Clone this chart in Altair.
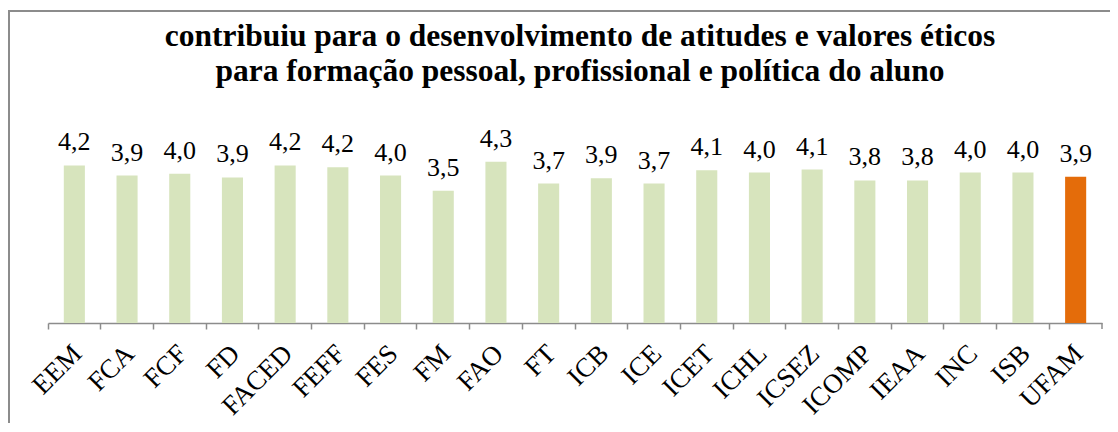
import altair as alt
import pandas as pd

categories = ["EEM", "FCA", "FCF", "FD", "FACED", "FEFF", "FES", "FM", "FAO", "FT",
              "ICB", "ICE", "ICET", "ICHL", "ICSEZ", "ICOMP", "IEAA", "INC", "ISB", "UFAM"]
values = [4.19, 3.92, 3.97, 3.87, 4.19, 4.14, 3.92, 3.52, 4.29, 3.71,
          3.85, 3.71, 4.06, 4.00, 4.08, 3.79, 3.79, 4.00, 4.00, 3.89]
labels = ["4,2", "3,9", "4,0", "3,9", "4,2", "4,2", "4,0", "3,5", "4,3", "3,7",
          "3,9", "3,7", "4,1", "4,0", "4,1", "3,8", "3,8", "4,0", "4,0", "3,9"]
groups = ["unidade"] * 19 + ["UFAM"]

df = pd.DataFrame({"cat": categories, "val": values, "lab": labels, "grp": groups})

W, H = 1054, 188
FONT = "Liberation Serif"
GRAY = "#8c8c8c"

x_enc = alt.X("cat:N", sort=categories, title=None,
              scale=alt.Scale(paddingInner=0, paddingOuter=0),
              axis=alt.Axis(bandPosition=0, labelAngle=-45, labelFont=FONT, labelFontSize=27,
                            labelColor="black", labelOffset=-6, labelPadding=11,
                            domainColor=GRAY, domainWidth=1.5, tickColor=GRAY, tickWidth=1.5,
                            tickSize=6, grid=False, labelAlign="right", labelBaseline="top"))
y_enc = alt.Y("val:Q", scale=alt.Scale(domain=[0, 5]), axis=None)

base = alt.Chart(df)
bars = base.mark_bar(width=alt.RelativeBandSize(0.4)).encode(
    x=x_enc, y=y_enc,
    color=alt.Color("grp:N", scale=alt.Scale(domain=["unidade", "UFAM"], range=["#d7e4bd", "#e46c0a"]),
                    legend=None),
)
text = base.mark_text(font=FONT, fontSize=26, baseline="alphabetic", dy=-15, color="black").encode(
    x=alt.X("cat:N", sort=categories), y=y_enc, text="lab:N")

one = alt.Chart(pd.DataFrame({"k": [0]}))
end_tick = one.mark_rule(color=GRAY, strokeWidth=1.5).encode(
    x=alt.value(W), y=alt.value(H), y2=alt.value(H + 6))
left_border = one.mark_rule(color=GRAY, strokeWidth=2).encode(
    x=alt.value(-39), y=alt.value(-124), y2=alt.value(H + 104))
top_border = one.mark_rule(color=GRAY, strokeWidth=2).encode(
    x=alt.value(-40), x2=alt.value(W + 8), y=alt.value(-124))

chart = alt.layer(bars, text, end_tick, left_border, top_border).properties(
    width=W, height=H,
    autosize=alt.AutoSizeParams(type="none"),
    padding={"left": 40, "top": 127, "right": 8, "bottom": 100},
    title=alt.TitleParams(
        ["contribuiu para o desenvolvimento de atitudes e valores éticos",
         "para formação pessoal, profissional e política do aluno"],
        font=FONT, fontSize=31.5, fontWeight="bold", color="black", anchor="middle",
        lineHeight=35, offset=-77, dx=5),
).configure_view(stroke=None)

chart.save("out.html", embed_options={"renderer": "svg", "actions": False})
